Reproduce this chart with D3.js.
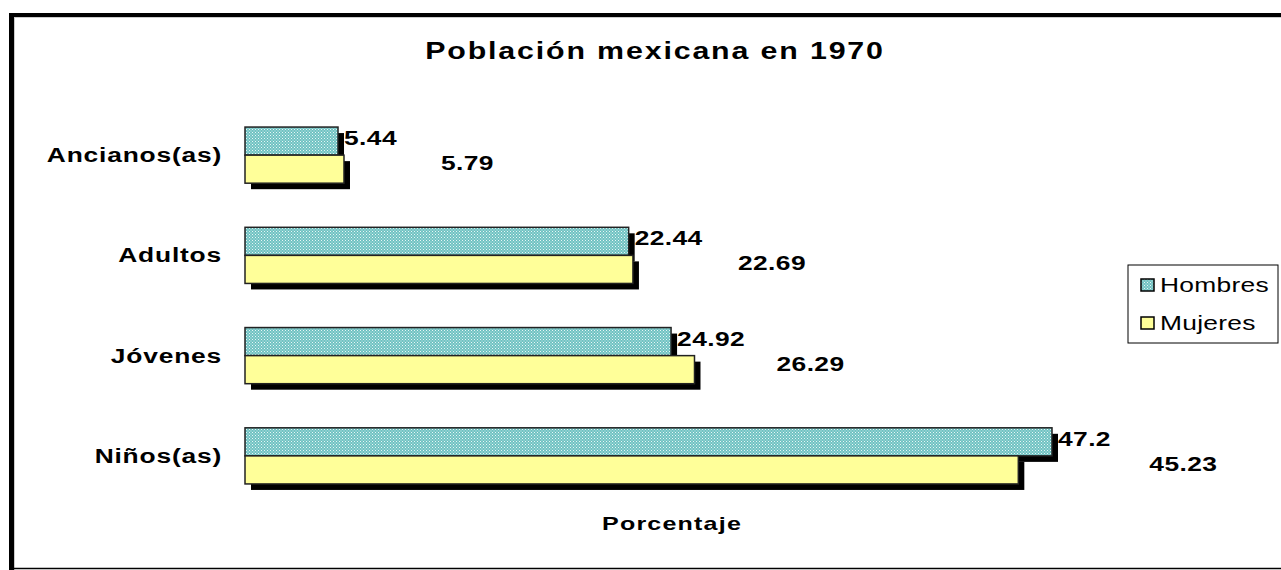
<!DOCTYPE html>
<html lang="es">
<head>
<meta charset="UTF-8">
<title>Población mexicana en 1970</title>
<script src="https://d3js.org/d3.v7.min.js"></script>
<style>
  body { margin: 0; background: #fff; }
  text { font-family: "Liberation Sans", Arial, sans-serif; }
</style>
</head>
<body>
<svg id="chart" width="1281" height="570"></svg>
<script>
// datos
const categorias = ["Ancianos(as)", "Adultos", "Jóvenes", "Niños(as)"];
const hombres = [5.44, 22.44, 24.92, 47.2];
const mujeres = [5.79, 22.69, 26.29, 45.23];
const series = ["Hombres", "Mujeres"];

// desplazamiento de las etiquetas de mujeres (como en el original)
const despMujeres = [97, 105, 82, 131];

const SX = 1.32; // el texto del original esta estirado en horizontal

const svg = d3.select("#chart");

// patron punteado para hombres
const defs = svg.append("defs");
const pat = defs.append("pattern")
  .attr("id", "dots")
  .attr("width", 3).attr("height", 3)
  .attr("patternUnits", "userSpaceOnUse");
pat.append("rect").attr("width", 3).attr("height", 3).attr("fill", "#6fc2c2");
pat.append("rect").attr("width", 1).attr("height", 1).attr("fill", "#e8f6f6");
pat.append("rect").attr("x", 1.5).attr("y", 1.5).attr("width", 1).attr("height", 1).attr("fill", "#d6efef");

const fills = { Hombres: "url(#dots)", Mujeres: "#ffff99" };

// texto estirado
function texto(g, x, y, str, size, weight, anchor, ls) {
  return g.append("text")
    .attr("transform", `translate(${x},${y}) scale(${SX},1)`)
    .attr("text-anchor", anchor || "start")
    .attr("font-size", size)
    .attr("font-weight", weight || "normal")
    .attr("letter-spacing", ls || 0)
    .text(str);
}

// marco
svg.append("line").attr("x1", 9).attr("x2", 1281).attr("y1", 15).attr("y2", 15)
  .attr("stroke", "#000").attr("stroke-width", 4);
svg.append("line").attr("x1", 11.5).attr("x2", 11.5).attr("y1", 13).attr("y2", 570)
  .attr("stroke", "#000").attr("stroke-width", 5);
svg.append("line").attr("x1", 14).attr("x2", 1281).attr("y1", 17.5).attr("y2", 17.5)
  .attr("stroke", "#ccc").attr("stroke-width", 1);
svg.append("line").attr("x1", 14.5).attr("x2", 14.5).attr("y1", 17).attr("y2", 570)
  .attr("stroke", "#ccc").attr("stroke-width", 1);
svg.append("line").attr("x1", 9).attr("x2", 1281).attr("y1", 568.5).attr("y2", 568.5)
  .attr("stroke", "#000").attr("stroke-width", 1.5);

// escalas
const x = d3.scaleLinear().domain([0, 47.2]).range([245, 1052]);
const y = d3.scaleBand().domain(categorias).range([105, 506]).paddingInner(0.44).paddingOuter(0.22);
const ySub = d3.scaleBand().domain(series).range([0, y.bandwidth()]);

const barras = categorias.flatMap((c, i) => [
  { cat: c, i: i, s: "Hombres", v: hombres[i] },
  { cat: c, i: i, s: "Mujeres", v: mujeres[i] }
]);

// sombras
svg.append("g").selectAll("rect").data(barras).join("rect")
  .attr("x", x(0) + 6)
  .attr("y", d => y(d.cat) + ySub(d.s) + 6)
  .attr("width", d => x(d.v) - x(0))
  .attr("height", ySub.bandwidth())
  .attr("fill", "#000");

// barras
svg.append("g").selectAll("rect").data(barras).join("rect")
  .attr("x", x(0))
  .attr("y", d => y(d.cat) + ySub(d.s))
  .attr("width", d => x(d.v) - x(0))
  .attr("height", ySub.bandwidth())
  .attr("fill", d => fills[d.s])
  .attr("stroke", "#222")
  .attr("stroke-width", 1.5);

// etiquetas de valores
const gv = svg.append("g");
barras.forEach(d => {
  const lx = d.s === "Hombres" ? x(d.v) + 6 : x(d.v) + despMujeres[d.i];
  const ly = y(d.cat) + ySub(d.s) + ySub.bandwidth() / 2 + (d.s === "Hombres" ? 4 : 1);
  texto(gv, lx, ly, d.v, 20, "bold", "start", 0.3);
});

// etiquetas de categoria
const gc = svg.append("g");
categorias.forEach(c => {
  texto(gc, 222, y(c) + y.bandwidth() / 2 + 7, c, 20, "bold", "end", 0.6);
});

// titulo
texto(svg, 655, 59, "Población mexicana en 1970", 23, "bold", "middle", 1.4);

// titulo del eje
texto(svg, 672, 530, "Porcentaje", 19, "bold", "middle", 0.9);

// leyenda
const leg = svg.append("g").attr("transform", "translate(1128,265)");
leg.append("rect").attr("width", 150).attr("height", 78)
  .attr("fill", "#fff").attr("stroke", "#000").attr("stroke-width", 1);
series.forEach((s, i) => {
  const it = leg.append("g").attr("transform", `translate(10,${20 + i * 38})`);
  it.append("rect").attr("x", 3).attr("y", -6).attr("width", 13).attr("height", 12)
    .attr("fill", fills[s]).attr("stroke", "#000").attr("stroke-width", 1.5);
  texto(it, 22, 7, s, 20, "normal", "start", 0.2);
});
</script>
</body>
</html>
